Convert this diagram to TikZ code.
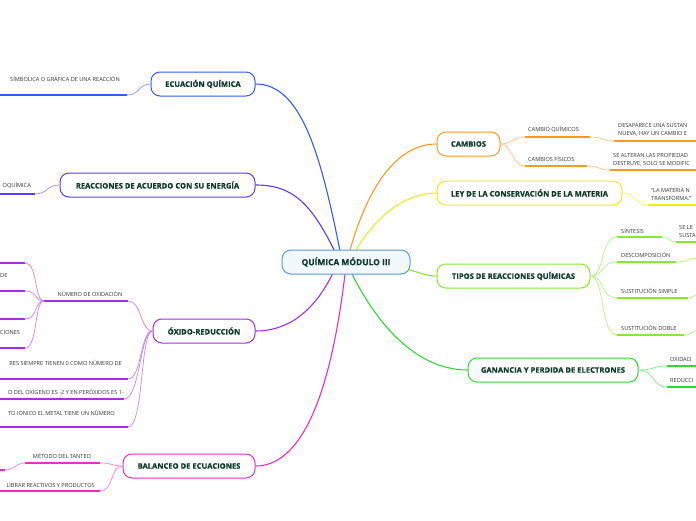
\documentclass[tikz,border=0pt]{standalone}
\usepackage{fontspec}
\setmainfont{Open Sans}
\newfontfamily\semib[FakeBold=0.6]{Open Sans}
\definecolor{txt}{HTML}{0E3B2E}
\definecolor{lt}{HTML}{333333}
\definecolor{cb}{HTML}{5B9BD5}
\definecolor{cbf}{HTML}{F3F8FD}
\definecolor{c1}{HTML}{2F5BFF}
\definecolor{c2}{HTML}{5A3CFF}
\definecolor{c3}{HTML}{A62CF0}
\definecolor{c4}{HTML}{F22BC8}
\definecolor{c5}{HTML}{FF9A1F}
\definecolor{c6}{HTML}{EDEB1A}
\definecolor{c7}{HTML}{84EB2E}
\definecolor{c8}{HTML}{2FDB2F}
\tikzset{
 mainbox/.style={draw, rounded corners=9pt, line width=1pt, fill=white, minimum height=24pt, inner xsep=4pt, font=\fontsize{7.6}{9}\selectfont\semib\bfseries, text=txt},
 leaf/.style={font=\fontsize{5.6}{7.8}\selectfont, text=lt, inner sep=0pt, align=left},
 uline/.style={line width=1.4pt},
 conn/.style={line width=1.1pt},
 sub/.style={line width=0.7pt},
}
\begin{document}
\begin{tikzpicture}[x=1pt,y=-1pt]
\useasboundingbox (0,0) rectangle (696,520);
% main nodes
\node[mainbox, draw=c1, minimum width=104pt] (ec) at (203,84) {ECUACIÓN QUÍMICA};
\node[mainbox, draw=c2, minimum width=195pt] (re) at (157.5,185) {REACCIONES DE ACUERDO CON SU ENERGÍA};
\node[mainbox, draw=c3, minimum width=102pt] (ox) at (204,331) {ÓXIDO-REDUCCIÓN};
\node[mainbox, draw=c4, minimum width=132pt] (ba) at (189,466) {BALANCEO DE ECUACIONES};
\node[mainbox, draw=c5, minimum width=63pt] (ca) at (468.5,144) {CAMBIOS};
\node[mainbox, draw=c6, minimum width=185pt] (le) at (529.5,193) {LEY DE LA CONSERVACIÓN DE LA MATERIA};
\node[mainbox, draw=c7, minimum width=153pt] (ti) at (513.5,276) {TIPOS DE REACCIONES QUÍMICAS};
\node[mainbox, draw=c8, minimum width=170pt] (ga) at (553,370) {GANANCIA Y PERDIDA DE ELECTRONES};
% center node position helpers
\coordinate (cN1) at (340,251); \coordinate (cN2) at (335,252); \coordinate (cS1) at (333,273);
\coordinate (cS2) at (345,274); \coordinate (cN3) at (350,250); \coordinate (cN4) at (356,250);
\coordinate (cE) at (405,269); \coordinate (cS3) at (352,274);
% main connectors
\draw[conn,c1] (cN1) .. controls (320,150) and (300,84) .. (ec.east);
\draw[conn,c2] (cN2) .. controls (310,200) and (290,185) .. (re.east);
\draw[conn,c3] (cS1) .. controls (310,320) and (280,331) .. (ox.east);
\draw[conn,c4] (cS2) .. controls (330,400) and (300,466) .. (ba.east);
\draw[conn,c5] (cN3) .. controls (370,180) and (400,144) .. (ca.west);
\draw[conn,c6] (cN4) .. controls (380,210) and (410,193) .. (le.west);
\draw[conn,c7] (cE) .. controls (420,272) and (425,276) .. (ti.west);
\draw[conn,c8] (cS3) .. controls (380,330) and (420,370) .. (ga.west);
\node[mainbox, draw=cb, fill=cbf, minimum width=128pt, font=\fontsize{8.4}{10}\selectfont\semib\bfseries] (c) at (346,262) {QUÍMICA MÓDULO III};
% ---- ECUACION leaf
\node[leaf, anchor=south east] (e1) at (120,82) {SÍMBOLICA O GRÁFICA DE UNA REACCIÓN};
\coordinate (e1a) at (0,95); \coordinate (e1b) at (127,95);
\draw[uline,c1] (e1a) -- (e1b);
\draw[sub,c1!60] (e1b) .. controls (140,95) and (138,84) .. (ec.west);
% ---- REACCIONES leaf
\node[leaf, anchor=south east] (r1) at (31,189) {OQUÍMICA};
\coordinate (r1a) at (0,194); \coordinate (r1b) at (35,194);
\draw[uline,c2] (r1a) -- (r1b);
\draw[sub,c2!60] (r1b) .. controls (48,194) and (46,185) .. (re.west);
% ---- OXIDO
\node[leaf, anchor=south] (o1) at (90,297) {NÚMERO DE OXIDACIÓN};
\coordinate (o1a) at (44,301); \coordinate (o1b) at (128,301);
\draw[uline,c3] (o1a) -- (o1b);
\draw[sub,c3!60] (o1b) .. controls (142,301) and (140,331) .. (ox.west);
\foreach \yy/\tt in {263/{},291/{DE},319/{},348/{CIONES}}{
  \draw[uline,c3] (0,\yy) -- (25,\yy);
  \draw[sub,c3!60] (25,\yy) .. controls (38,\yy) and (34,301) .. (o1a);
  \node[leaf, anchor=west] at (0,\yy-16) {\tt};
}
\node[leaf, anchor=south east] (o2) at (122,366) {RES SIEMPRE TIENEN 0 COMO NÚMERO DE};
\coordinate (o2b) at (128,379); \draw[uline,c3] (0,379) -- (o2b);
\draw[sub,c3!60] (o2b) .. controls (142,379) and (140,331) .. (ox.west);
\node[leaf, anchor=south east] (o3) at (124,395) {O DEL OXÍGENO ES -2 Y EN PERÓXIDOS ES 1-};
\coordinate (o3b) at (124,399); \draw[uline,c3] (0,399) -- (o3b);
\draw[sub,c3!60] (o3b) .. controls (140,399) and (140,331) .. (ox.west);
\node[leaf, anchor=south east] (o4) at (115,416) {TO IÓNICO EL METAL TIENE UN NÚMERO};
\coordinate (o4b) at (128,427); \draw[uline,c3] (0,427) -- (o4b);
\draw[sub,c3!60] (o4b) .. controls (144,427) and (140,331) .. (ox.west);
% ---- BALANCEO
\node[leaf, anchor=south] (b1) at (62,459) {MÉTODO DEL TANTEO};
\coordinate (b1a) at (25,463); \coordinate (b1b) at (100,463);
\draw[uline,c4] (b1a) -- (b1b);
\draw[sub,c4!60] (b1b) .. controls (113,463) and (112,466) .. (ba.west);
\draw[uline,c4] (0,470) -- (5,470);
\draw[sub,c4!60] (5,470) .. controls (15,470) and (15,463) .. (b1a);
\node[leaf, anchor=south east] (b2) at (95,488) {LIBRAR REACTIVOS Y PRODUCTOS};
\coordinate (b2b) at (100,491); \draw[uline,c4] (0,491) -- (b2b);
\draw[sub,c4!60] (b2b) .. controls (114,491) and (110,466) .. (ba.west);
% ---- CAMBIOS
\node[leaf, anchor=south west] (k1) at (528,133) {CAMBIO QUÍMICOS};
\coordinate (k1a) at (525,137); \coordinate (k1b) at (590,137);
\draw[uline,c5] (k1a) -- (k1b);
\draw[sub,c5!60] (ca.east) .. controls (512,144) and (512,137) .. (k1a);
\node[leaf, anchor=south west] (k2) at (618,136) {DESAPARECE UNA SUSTAN\\NUEVA, HAY UN CAMBIO E};
\coordinate (k2a) at (614,141); \draw[uline,c5] (k2a) -- (700,141);
\draw[sub,c5!60] (k1b) .. controls (603,137) and (602,141) .. (k2a);
\node[leaf, anchor=south west] (k3) at (528,162) {CAMBIOS FÍSICOS};
\coordinate (k3a) at (525,166); \coordinate (k3b) at (587,166);
\draw[uline,c5] (k3a) -- (k3b);
\draw[sub,c5!60] (ca.east) .. controls (512,144) and (512,166) .. (k3a);
\node[leaf, anchor=south west] (k4) at (613,166) {SE ALTERAN LAS PROPIEDAD\\DESTRUYE, SOLO SE MODIFIC};
\coordinate (k4a) at (610,170); \draw[uline,c5] (k4a) -- (700,170);
\draw[sub,c5!60] (k3b) .. controls (600,166) and (598,170) .. (k4a);
% ---- LEY
\node[leaf, anchor=south west] (l1) at (651,201) {"LA MATERIA N\\TRANSFORMA."};
\coordinate (l1a) at (648,205); \draw[uline,c6] (l1a) -- (700,205);
\draw[sub,c6!70] (le.east) .. controls (636,193) and (634,205) .. (l1a);
% ---- TIPOS
\node[leaf, anchor=south west] (t1) at (621,234) {SÍNTESIS};
\coordinate (t1a) at (617,237); \coordinate (t1b) at (662,237);
\draw[uline,c7] (t1a) -- (t1b);
\draw[sub,c7!60] (ti.east) .. controls (605,276) and (600,237) .. (t1a);
\node[leaf, anchor=south west] (t2) at (679,238) {SE LE\\SUSTA};
\coordinate (t2a) at (676,242); \draw[uline,c7] (t2a) -- (700,242);
\draw[sub,c7!60] (t1b) .. controls (670,237) and (668,242) .. (t2a);
\node[leaf, anchor=south west] (t3) at (621,258) {DESCOMPOSICIÓN};
\coordinate (t3a) at (617,262); \coordinate (t3b) at (676,262);
\draw[uline,c7] (t3a) -- (t3b);
\draw[sub,c7!60] (ti.east) .. controls (605,276) and (600,262) .. (t3a);
\coordinate (t3c) at (700,258);
\draw[sub,c7!60] (t3b) .. controls (688,262) and (688,258) .. (t3c);
\node[leaf, anchor=south west] (t4) at (621,294) {SUSTITUCIÓN SIMPLE};
\coordinate (t4a) at (617,298); \coordinate (t4b) at (688,298);
\draw[uline,c7] (t4a) -- (t4b);
\draw[sub,c7!60] (ti.east) .. controls (605,276) and (600,298) .. (t4a);
\coordinate (t4c) at (700,294);
\draw[sub,c7!60] (t4b) .. controls (694,298) and (694,294) .. (t4c);
\node[leaf, anchor=south west] (t5) at (621,331) {SUSTITUCIÓN DOBLE};
\coordinate (t5a) at (617,335); \coordinate (t5b) at (684,335);
\draw[uline,c7] (t5a) -- (t5b);
\draw[sub,c7!60] (ti.east) .. controls (605,276) and (600,335) .. (t5a);
\coordinate (t5c) at (700,330);
\draw[sub,c7!60] (t5b) .. controls (692,335) and (692,330) .. (t5c);
% ---- GANANCIA
\node[leaf, anchor=south west] (g1) at (670,362) {OXIDACI};
\coordinate (g1a) at (667,366); \draw[uline,c8] (g1a) -- (700,366);
\draw[sub,c8!60] (ga.east) .. controls (655,370) and (652,366) .. (g1a);
\node[leaf, anchor=south west] (g2) at (670,383) {REDUCCI};
\coordinate (g2a) at (667,387); \draw[uline,c8] (g2a) -- (700,387);
\draw[sub,c8!60] (ga.east) .. controls (655,370) and (652,387) .. (g2a);
\end{tikzpicture}
\end{document}
